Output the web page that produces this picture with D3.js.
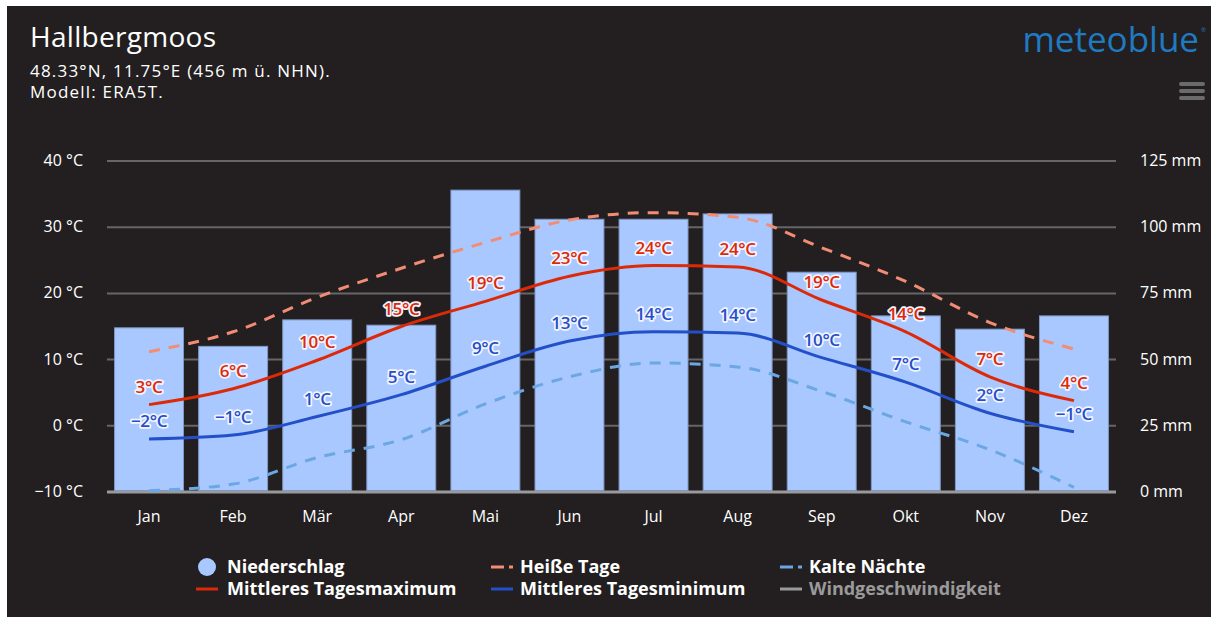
<!DOCTYPE html>
<html>
<head>
<meta charset="UTF-8" />
<title>Hallbergmoos Klima</title>
<script src="https://d3js.org/d3.v7.min.js"></script>
<style type="text/css">
body {
    margin: 0;
    background-color: white;
    font-family: "Open Sans", "Noto Sans", sans-serif;
}
#chart text { font-family: "Open Sans", "Noto Sans", sans-serif; }
</style>
</head>
<body>
<svg id="chart" width="1211" height="617"></svg>

<script type="text/javascript">
// data
var months = ['Jan', 'Feb', 'Mär', 'Apr', 'Mai', 'Jun', 'Jul', 'Aug', 'Sep', 'Okt', 'Nov', 'Dez'];
var precip = [62, 55, 65, 63, 114, 103, 103, 105, 83, 66.5, 61.5, 66.5];          // mm
var tMax = [3.2, 5.6, 9.9, 15.0, 18.8, 22.6, 24.2, 24.0, 19.0, 14.2, 7.4, 3.8];
var tMin = [-2.0, -1.4, 1.4, 4.7, 9.0, 12.8, 14.2, 14.0, 10.3, 6.6, 1.9, -0.9];
var hotDays = [11.2, 14.2, 19.4, 23.8, 27.7, 31.1, 32.2, 31.5, 26.9, 21.8, 15.6, 11.6];
var coldNights = [-9.8, -8.8, -4.8, -2.1, 3.3, 7.4, 9.5, 8.9, 5.2, 0.6, -3.6, -9.3];
var tempTicks = [-10, 0, 10, 20, 30, 40];
var precipTicks = [0, 25, 50, 75, 100, 125];

(function() {
var svg = d3.select("#chart");

// dunkler Hintergrund
svg.append("rect").attr("x", 7).attr("y", 6).attr("width", 1204).attr("height", 611).attr("fill", "#231f20");

var plotLeft = 107, plotRight = 1116, plotTop = 161, plotBottom = 492;

var x = d3.scaleBand().domain(months).range([plotLeft, plotRight]).paddingInner(0.18).paddingOuter(0.09);
var yT = d3.scaleLinear().domain([-10, 40]).range([plotBottom, plotTop]);
var yP = d3.scaleLinear().domain([0, 125]).range([plotBottom, plotTop]);

// Kopf
svg.append("text").attr("x", 30).attr("y", 47).attr("fill", "#fff").attr("font-size", 28).attr("letter-spacing", 0.3).text("Hallbergmoos");
svg.append("text").attr("x", 30).attr("y", 77).attr("fill", "#fff").attr("font-size", 17).attr("letter-spacing", 1.2).text("48.33°N, 11.75°E (456 m ü. NHN).");
svg.append("text").attr("x", 30).attr("y", 98).attr("fill", "#fff").attr("font-size", 17).attr("letter-spacing", 1.2).text("Modell: ERA5T.");

svg.append("text").attr("x", 1199).attr("y", 52).attr("text-anchor", "end")
    .attr("fill", "#1f7ac2").attr("font-size", 35).attr("font-weight", 500).text("meteoblue");
svg.append("text").attr("x", 1201).attr("y", 32).attr("fill", "#1f7ac2").attr("font-size", 6).text("®");

// Menü-Symbol
[84, 91, 98].forEach(function(yy) {
    svg.append("rect").attr("x", 1179).attr("y", yy - 2).attr("width", 26).attr("height", 4)
        .attr("rx", 2).attr("fill", "#6b6b6b");
});

// Gitter
svg.append("g").selectAll("line").data(tempTicks).enter().append("line")
    .attr("x1", plotLeft).attr("x2", plotRight)
    .attr("y1", function(d) { return yT(d); }).attr("y2", function(d) { return yT(d); })
    .attr("stroke", function(d) { return d == -10 ? "#9a9a9a" : "#666"; })
    .attr("stroke-width", function(d) { return d == -10 ? 3 : 2; });

// linke Achse
svg.append("g").selectAll("text").data(tempTicks).enter().append("text")
    .attr("x", 83).attr("y", function(d) { return yT(d) + 5; })
    .attr("text-anchor", "end").attr("fill", "#fff").attr("font-size", 16)
    .text(function(d) { return (d < 0 ? "\u2212" + (-d) : d) + " °C"; });

// rechte Achse
svg.append("g").selectAll("text").data(precipTicks).enter().append("text")
    .attr("x", 1140).attr("y", function(d) { return yP(d) + 5; })
    .attr("fill", "#fff").attr("font-size", 16)
    .text(function(d) { return d + " mm"; });

// Monate
svg.append("g").selectAll("text").data(months).enter().append("text")
    .attr("x", function(d) { return x(d) + x.bandwidth() / 2; }).attr("y", 522)
    .attr("text-anchor", "middle").attr("fill", "#fff").attr("font-size", 16)
    .text(function(d) { return d; });

// Niederschlag
svg.append("g").selectAll("rect").data(precip).enter().append("rect")
    .attr("x", function(d, i) { return x(months[i]); })
    .attr("y", function(d) { return yP(d); })
    .attr("width", x.bandwidth())
    .attr("height", function(d) { return yP(0) - yP(d) - 1.5; })
    .attr("fill", "#a8c8ff").attr("stroke", "#8099c4").attr("stroke-width", 1);

var cx = function(d, i) { return x(months[i]) + x.bandwidth() / 2; };
var line = d3.line().x(cx).y(function(d) { return yT(d); }).curve(d3.curveMonotoneX);

function drawLine(data, color, dash) {
    svg.append("path").datum(data).attr("d", line)
        .attr("fill", "none").attr("stroke", color).attr("stroke-width", 3)
        .attr("stroke-dasharray", dash || null);
}
drawLine(coldNights, "#6ba7e2", "11,9");
drawLine(hotDays, "#f28c74", "11,9");
drawLine(tMin, "#2350c8");
drawLine(tMax, "#dc2a08");

function drawLabels(data, color) {
    svg.append("g").selectAll("text").data(data).enter().append("text")
        .attr("x", cx).attr("y", function(d) { return yT(d) - 12; })
        .attr("text-anchor", "middle").attr("font-size", 17).attr("font-weight", 600)
        .attr("letter-spacing", -0.3)
        .attr("fill", color).attr("stroke", "#f4f4ff").attr("stroke-width", 3.5)
        .attr("stroke-linejoin", "round").attr("paint-order", "stroke")
        .text(function(d) { var r = Math.round(d); return (r < 0 ? "\u2212" + (-r) : r) + "°C"; });
}
drawLabels(tMin, "#2350c8");
drawLabels(tMax, "#dc2a08");

// Legende
var legend = svg.append("g").attr("font-size", 18).attr("font-weight", 700);
var items = [
    { name: "Niederschlag", col: 0, row: 0, type: "dot", color: "#a8c8ff" },
    { name: "Heiße Tage", col: 1, row: 0, type: "dash", color: "#f28c74" },
    { name: "Kalte Nächte", col: 2, row: 0, type: "dash", color: "#6ba7e2" },
    { name: "Mittleres Tagesmaximum", col: 0, row: 1, type: "line", color: "#dc2a08" },
    { name: "Mittleres Tagesminimum", col: 1, row: 1, type: "line", color: "#2350c8" },
    { name: "Windgeschwindigkeit", col: 2, row: 1, type: "line", color: "#9a9a9a", off: true }
];
var colX = [196, 491, 780];
items.forEach(function(it) {
    var lx = colX[it.col], ly = 567 + it.row * 22;
    if (it.type == "dot") {
        legend.append("circle").attr("cx", lx + 11).attr("cy", ly).attr("r", 9).attr("fill", it.color);
    } else if (it.type == "dash") {
        legend.append("line").attr("x1", lx).attr("x2", lx + 13).attr("y1", ly).attr("y2", ly)
            .attr("stroke", it.color).attr("stroke-width", 3);
        legend.append("line").attr("x1", lx + 18).attr("x2", lx + 22).attr("y1", ly).attr("y2", ly)
            .attr("stroke", it.color).attr("stroke-width", 3);
    } else {
        legend.append("line").attr("x1", lx).attr("x2", lx + 22).attr("y1", ly).attr("y2", ly)
            .attr("stroke", it.color).attr("stroke-width", 3);
    }
    legend.append("text").attr("x", lx + (it.col == 0 ? 31 : 29)).attr("y", ly + 6)
        .attr("fill", it.off ? "#9a9a9a" : "#fff").text(it.name);
});
})();
</script>
</body>
</html>
